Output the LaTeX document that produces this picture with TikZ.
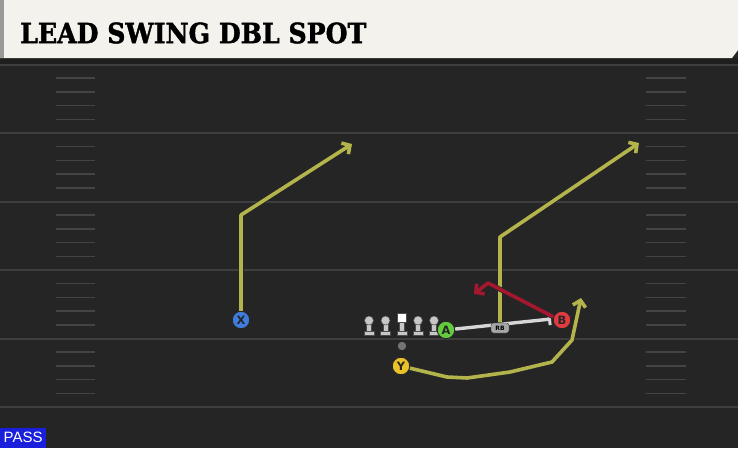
\documentclass[tikz,border=0pt]{standalone}
\usepackage{fontspec}
\usepackage{tikz}
\usetikzlibrary{arrows.meta}
\newfontfamily\titlefont{DejaVu Serif}[FakeBold=1.5]
\newfontfamily\letterfont{DejaVu Sans}
\setsansfont{Liberation Sans}
\definecolor{turf}{HTML}{252525}
\definecolor{yardline}{HTML}{3e3e3e}
\definecolor{hashmark}{HTML}{444444}
\definecolor{banner}{HTML}{F4F2EC}
\definecolor{routeyel}{HTML}{B4B44C}
\definecolor{routered}{HTML}{A3182E}
\definecolor{blockgray}{HTML}{D6D6D6}
\definecolor{xblue}{HTML}{3F7CDC}
\definecolor{ygold}{HTML}{E9C229}
\definecolor{agreen}{HTML}{62CC3E}
\definecolor{bred}{HTML}{E23B3F}
\definecolor{passblue}{HTML}{1A1FDC}

\begin{document}
\begin{tikzpicture}[x=1pt,y=-1pt,
  player/.style={circle,draw=black!85,line width=.9pt,minimum size=17.5pt,inner sep=0pt,
    font=\letterfont\bfseries\fontsize{11.5}{11.5}\selectfont,text=black!85},
  route/.style={draw=routeyel,line width=3.6pt,line join=round,
    preaction={draw=black!85,line width=5.4pt}},
  tip/.style={-{Straight Barb[length=6pt,width=13pt]}},
  lineman/.style={fill=black!22,draw=black!70,line width=.5pt}]
  \useasboundingbox (0,0) rectangle (738,448);
  % field
  \fill[turf] (0,0) rectangle (738,448);
  \fill[black!88] (0,58) rectangle (738,64);
  \foreach \yy in {64.5,133,201.5,270,338.5,407}
    \draw[yardline,line width=2pt] (0,\yy) -- (738,\yy);
  \foreach \base in {64.5,133,201.5,270,338.5}
    \foreach \k in {1,2,3,4}{
      \draw[hashmark,line width=1.5pt] (56,\base+13.7*\k) -- (95,\base+13.7*\k);
      \draw[hashmark,line width=1.5pt] (646,\base+13.7*\k) -- (686,\base+13.7*\k);
    }
  % banner
  \fill[banner] (0,0) -- (738,0) -- (738,50) -- (732,58) -- (0,58) -- cycle;
  \fill[black!40] (0,0) rectangle (4,58);
  \node[anchor=west,inner sep=0pt,xscale=0.9] (title) at (20,33)
    {\titlefont\bfseries\fontsize{28}{28}\selectfont LEAD SWING DBL SPOT};

  % line
  \foreach \xx in {369,385.5,418,434}{
    \filldraw[lineman] (\xx-2.5,322) rectangle (\xx+2.5,331);
    \filldraw[lineman] (\xx-5,331) rectangle (\xx+5,335.5);
    \filldraw[lineman] (\xx,320.5) circle (4.5);
  }
  \filldraw[lineman] (399.5,322) rectangle (404.5,331);
  \filldraw[lineman] (397,331) rectangle (407,335.5);
  \filldraw[fill=white,draw=black!70,line width=.5pt] (397.5,313.5) rectangle (406.5,322);
  \fill[black!55] (402,346) circle (4.2) node (QB) {};

  % players
  \node[player,fill=xblue] (X) at (241,320) {X};
  \node[player,fill=ygold] (Y) at (401,366) {Y};
  \node[player,fill=agreen] (A) at (446,330) {A};
  \node[player,fill=bred] (B) at (562,320) {B};

  \coordinate (Xbrk) at (241,215);
  \coordinate (Xend) at (352,144);
  \coordinate (RBbrk) at (500,237);
  \coordinate (RBend) at (639,143);
  \coordinate (Bbrk) at (488,283);
  \coordinate (Bend) at (474,294);
  \coordinate (Aend) at (551,319);
  \coordinate (Yend) at (581,298);

  % routes
  \draw[route,tip] (X) -- (Xbrk) -- (Xend);
  \draw[draw=blockgray,line width=3.4pt,-{Bar[width=12pt,line width=3pt]},
    preaction={draw=black!85,line width=5pt}] (A) -- (Aend);
  \draw[route,tip] (500,322) -- (RBbrk) -- (RBend);
  \node[draw=black!80,fill=black!35,rounded corners=2.5pt,inner sep=1pt,minimum width=18pt,
    minimum height=10pt,font=\letterfont\bfseries\fontsize{6}{6}\selectfont] (RB) at (500,328) {RB};
  \draw[routered,line width=3.6pt,line join=round,tip,
    preaction={draw=black!85,line width=5pt}] (B.160) -- (Bbrk) -- (Bend);
  \draw[route,tip] (Y) -- (447,377) -- (467,378) -- (510,372) -- (552,362)
    -- (572,340) -- (Yend);

  % tag
  \node[fill=passblue,anchor=south west,minimum width=46pt,minimum height=20pt,inner sep=0pt,
    text=white,font=\sffamily\fontsize{15}{15}\selectfont] (pass) at (0,448) {PASS};
\end{tikzpicture}
\end{document}
